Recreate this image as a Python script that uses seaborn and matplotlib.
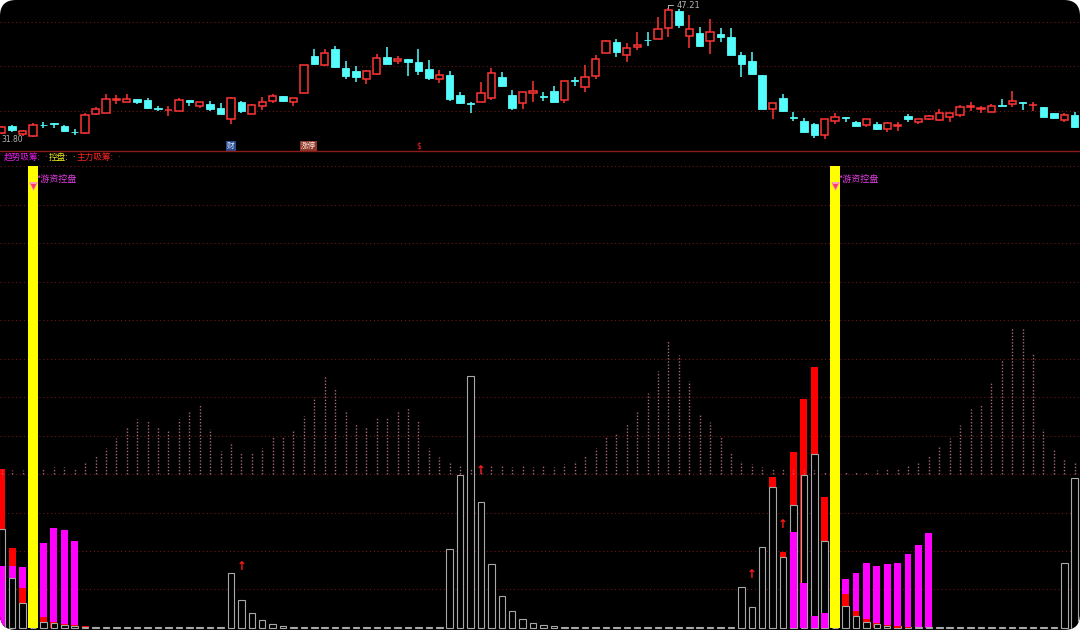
import numpy as np
import matplotlib
matplotlib.use("Agg")
import matplotlib.pyplot as plt
from matplotlib.patches import FancyBboxPatch
from matplotlib.lines import Line2D
import seaborn as sns

# ---- price candles ----
opens = [32.58, 33.41, 32.40, 32.23, 33.54, 33.73, 33.37, 32.71, 32.51, 34.78,
         34.87, 36.45, 36.16, 36.55, 36.43, 35.45, 35.21, 35.17, 36.43, 35.76,
         35.99, 35.45, 34.16, 36.23, 34.82, 35.76, 36.35, 36.90, 36.19, 37.29,
         41.64, 40.58, 42.43, 40.19, 39.81, 38.93, 39.45, 41.49, 41.02, 41.25,
         40.90, 40.04, 38.93, 39.37, 37.02, 36.10, 36.16, 36.67, 39.14, 37.02,
         36.04, 37.29, 36.87, 37.45, 36.47, 38.75, 38.00, 39.29, 41.99, 43.25,
         41.69, 42.66, 43.53, 43.64, 44.93, 46.93, 43.96, 44.27, 43.33, 44.16,
         43.84, 41.72, 41.05, 39.33, 35.34, 36.67, 34.40, 33.96, 33.57, 32.31,
         33.93, 34.43, 33.84, 33.49, 33.61, 32.98, 33.36, 34.58, 33.81, 34.16,
         34.08, 34.47, 34.67, 35.60, 35.36, 35.05, 35.85, 35.92, 36.14, 35.79,
         35.57, 34.87, 34.08, 34.67]
highs = [33.43, 33.45, 32.90, 33.69, 33.84, 33.76, 33.49, 32.98, 34.87, 35.57,
         37.10, 37.02, 37.17, 36.57, 36.63, 35.72, 35.72, 36.67, 36.45, 36.18,
         36.31, 36.04, 36.75, 36.27, 35.95, 36.82, 37.10, 36.93, 36.66, 40.55,
         42.39, 42.39, 42.78, 41.05, 40.43, 39.96, 41.80, 42.66, 41.64, 41.27,
         42.39, 41.13, 39.96, 39.81, 37.41, 36.19, 38.55, 40.19, 39.72, 37.61,
         37.40, 38.63, 37.34, 38.08, 38.66, 39.17, 40.55, 41.72, 43.49, 43.64,
         43.10, 44.43, 44.39, 46.16, 47.21, 47.15, 46.43, 45.05, 45.92, 44.93,
         44.93, 42.11, 42.04, 39.37, 36.07, 37.10, 35.05, 34.28, 33.73, 34.23,
         34.94, 34.45, 33.99, 34.22, 33.81, 33.79, 33.88, 34.78, 34.22, 34.67,
         35.34, 34.90, 35.88, 36.16, 35.72, 35.92, 36.55, 37.52, 36.16, 36.23,
         35.64, 34.90, 34.87, 35.05]
lows = [32.43, 32.63, 32.23, 32.11, 33.10, 33.17, 32.67, 32.31, 32.43, 34.63,
        34.85, 35.96, 36.14, 35.92, 35.41, 35.10, 34.58, 35.15, 35.76, 35.52,
        35.17, 34.80, 33.64, 34.94, 34.80, 35.25, 36.11, 36.16, 35.72, 37.26,
        40.58, 40.43, 40.25, 38.90, 38.58, 38.28, 39.42, 40.63, 40.63, 39.25,
        39.33, 38.82, 38.39, 36.35, 35.92, 34.94, 36.14, 36.43, 38.00, 35.25,
        35.41, 36.16, 36.31, 36.16, 36.04, 38.08, 37.41, 38.86, 41.92, 41.45,
        40.90, 42.31, 42.78, 43.57, 43.80, 44.86, 42.51, 42.63, 41.80, 43.29,
        41.70, 39.10, 39.41, 35.38, 34.16, 34.98, 34.00, 32.58, 31.92, 31.80,
        33.61, 33.88, 33.39, 33.29, 32.90, 32.67, 32.82, 33.88, 33.64, 34.13,
        34.00, 33.88, 34.40, 35.14, 34.87, 34.98, 35.72, 35.64, 35.25, 35.14,
        34.45, 34.16, 33.88, 33.10]
closes = [33.29, 32.90, 32.78, 33.53, 33.44, 33.64, 32.75, 32.62, 34.70, 35.37,
          36.55, 36.52, 36.51, 36.19, 35.52, 35.37, 35.29, 36.43, 36.19, 36.16,
          35.37, 34.82, 36.63, 35.17, 35.88, 36.23, 36.90, 36.31, 36.63, 40.51,
          40.70, 41.92, 40.28, 39.25, 39.14, 39.81, 41.37, 40.66, 41.22, 40.93,
          39.88, 39.05, 39.37, 36.58, 36.04, 36.00, 37.22, 39.61, 38.08, 35.45,
          37.37, 37.52, 36.77, 36.19, 38.63, 38.65, 39.17, 41.29, 43.33, 42.04,
          42.51, 42.86, 43.44, 44.74, 47.01, 45.21, 44.74, 42.82, 44.43, 43.80,
          41.72, 40.63, 39.49, 35.41, 36.04, 35.10, 34.30, 32.70, 32.31, 34.19,
          34.47, 34.35, 33.41, 34.19, 32.98, 33.76, 33.46, 34.16, 34.19, 34.55,
          34.94, 34.87, 35.64, 35.69, 35.45, 35.72, 35.76, 36.31, 36.07, 35.89,
          34.47, 34.35, 34.63, 33.22]
price_grid = [45.60, 40.43, 35.14]

# ---- indicator panel ----
gray_val = [25.7, 13.0, 6.6, 0.0, 1.6, 1.2, 0.7, 0.6, 0.3, 0.3,
            0.3, 0.3, 0.3, 0.3, 0.3, 0.3, 0.3, 0.3, 0.3, 0.3,
            0.3, 0.3, 14.2, 7.2, 3.8, 2.0, 1.0, 0.6, 0.3, 0.3,
            0.3, 0.3, 0.3, 0.3, 0.3, 0.3, 0.3, 0.3, 0.3, 0.3,
            0.3, 0.3, 0.3, 20.4, 39.7, 65.5, 32.7, 16.5, 8.2, 4.4,
            2.3, 1.2, 0.8, 0.4, 0.3, 0.3, 0.3, 0.3, 0.3, 0.3,
            0.3, 0.3, 0.3, 0.3, 0.3, 0.3, 0.3, 0.3, 0.3, 0.3,
            0.3, 10.6, 5.4, 21.0, 36.7, 18.4, 31.9, 39.7, 45.1, 22.6,
            0.0, 5.8, 3.1, 1.6, 1.0, 0.6, 0.4, 0.3, 0.3, 0.3,
            0.3, 0.3, 0.3, 0.3, 0.3, 0.3, 0.3, 0.3, 0.3, 0.3,
            0.3, 0.3, 16.9, 39.0]
magenta_idx = [0, 1, 2, 4, 5, 6, 7, 76, 77, 78, 79, 81, 82, 83, 84, 85, 86, 87, 88, 89]
magenta_val = [16.1, 16.1, 15.8, 22.2, 26.1, 25.5, 22.7, 24.9, 11.6, 3.1, 3.8,
               12.8, 14.2, 17.0, 16.1, 16.7, 17.0, 19.2, 21.6, 24.8]
red_idx = [0, 1, 2, 4, 5, 6, 7, 8, 74, 75, 76, 77, 78, 79, 81, 82, 83, 84, 85, 86, 87]
red_val = [41.3, 20.8, 10.5, 2.9, 1.6, 1.0, 0.8, 0.5, 39.1, 19.7, 45.7, 59.5, 67.9, 34.0,
           8.8, 4.5, 2.4, 1.2, 0.8, 0.4, 0.3]
yellow_idx = [3, 80]
yellow_val = [120, 120]
arrow_idx = [23, 46, 72, 75]
arrow_val = [16.0, 41.0, 14.0, 27.0]
DASH_BASE = 40
dash_h = [1.0, 1.0, 1.0, 1.0, 1.6, 1.8, 1.8, 1.6, 2.9, 4.7,
          6.8, 9.4, 12.2, 14.3, 13.7, 12.2, 11.4, 14.3, 16.1, 17.9,
          11.6, 6.1, 8.4, 5.7, 5.7, 6.8, 9.5, 9.6, 11.4, 15.1,
          19.9, 25.7, 22.1, 16.6, 13.0, 12.1, 14.5, 14.7, 16.6, 17.1,
          13.8, 6.7, 4.3, 3.1, 2.1, 1.5, 1.0, 2.3, 2.3, 1.7,
          2.1, 1.9, 2.1, 1.7, 2.5, 3.3, 4.7, 6.8, 9.5, 10.7,
          13.0, 16.1, 21.0, 26.8, 34.5, 30.9, 24.1, 15.2, 13.5, 9.6,
          5.4, 3.5, 2.6, 1.9, 1.5, 1.2, 1.0, 1.0, 1.0, 0.6,
          0.6, 0.8, 0.9, 0.9, 1.0, 1.3, 1.3, 2.2, 3.1, 4.9,
          7.1, 9.4, 12.7, 16.8, 18.2, 23.6, 29.6, 38.3, 38.0, 31.5,
          11.7, 6.2, 4.2, 2.9]
level_grid = [10, 20, 30, 40, 50, 60, 70, 80, 90, 100, 110, 120]

# header legend: label, colour, left pixel, dot pixel
head_labels = ["趋势吸筹:", "控盘:", "主力吸筹:"]
head_colors = ["#e61ee6", "#e6e61e", "#ff2424"]
head_x = [4, 49, 77]
head_dot_x = [44, 72, 117]

RED = "#ff3535"
CYAN = "#54fcfc"
GRID = "#6a1616"
W, H = 1080, 630
XLIM = (-0.173, 103.51)

sns.set_theme(style="dark", rc={"axes.facecolor": "none", "figure.facecolor": "white"})
plt.rcParams["font.family"] = ["Noto Sans CJK SC", "DejaVu Sans"]

fig = plt.figure(figsize=(W / 100, H / 100), dpi=100)
bg = FancyBboxPatch((0, 0), W / 100, H / 100, boxstyle="round,pad=0,rounding_size=0.16",
                    transform=fig.dpi_scale_trans, facecolor="black", edgecolor="none", zorder=0)
fig.add_artist(bg)

ax_top = fig.add_axes([0, 1 - 150 / H, 1, 150 / H])
ax_bot = fig.add_axes([0, 0, 1, 478 / H])
for ax in (ax_top, ax_bot):
    ax.set_xlim(*XLIM)
    ax.set_axis_off()
ax_top.set_ylim(30.55, 48.19)
ax_bot.set_ylim(-0.52, 123.64)

# candles
x = np.arange(len(opens))
o = np.array(opens)
c = np.array(closes)
hi = np.array(highs)
lo = np.array(lows)
up = c > o
dn = ~up
body_lo = np.minimum(o, c)
body_h = np.maximum(np.abs(c - o), 0.06)

for lvl in price_grid:
    ax_top.axhline(lvl, color=GRID, lw=0.8, ls=(0, (1, 2.5)), zorder=1)

ax_top.vlines(x[dn], lo[dn], hi[dn], color=CYAN, lw=1.1, zorder=2)
ax_top.bar(x[dn], body_h[dn], bottom=body_lo[dn], width=0.72, color=CYAN,
           edgecolor=CYAN, lw=0.6, zorder=3)
ax_top.vlines(x[up], c[up], hi[up], color=RED, lw=1.1, zorder=2)
ax_top.vlines(x[up], lo[up], o[up], color=RED, lw=1.1, zorder=2)
ax_top.bar(x[up], body_h[up], bottom=body_lo[up], width=0.70, facecolor="black",
           edgecolor=RED, lw=1.1, zorder=3)

imax = int(np.argmax(hi))
ax_top.annotate(f"{hi[imax]:.2f}", xy=(imax, hi[imax]), xytext=(imax + 0.75, 47.55),
                color="#b4b4b4", fontsize=6, family="DejaVu Sans", ha="left", va="center",
                arrowprops=dict(arrowstyle="-", color="#b4b4b4", lw=0.7, shrinkA=0, shrinkB=0,
                                connectionstyle="angle,angleA=0,angleB=90,rad=0"))
ax_top.text(0.0, 31.73, f"{lo.min():.2f}", color="#b4b4b4", fontsize=5.5,
            family="DejaVu Sans", ha="left", va="center")
ax_top.text(22, 31.02, "财", color="#dfe8ff", fontsize=5.5, ha="center", va="center",
            bbox=dict(boxstyle="square,pad=0.12", facecolor="#2a4c8c", edgecolor="none"))
ax_top.text(29.4, 31.02, "涨停", color="#ffe6da", fontsize=5.5, ha="center", va="center",
            bbox=dict(boxstyle="square,pad=0.12", facecolor="#8c3a2c", edgecolor="none"))
ax_top.text(40, 31.02, "$", color="#ff2020", fontsize=5.5, family="DejaVu Sans",
            ha="center", va="center")

fig.add_artist(Line2D([0, 1], [1 - 150.5 / H] * 2, transform=fig.transFigure,
                      color="#8a1c1c", lw=1.0, zorder=2))

# indicator panel
for lvl in level_grid:
    ax_bot.axhline(lvl, color=GRID, lw=0.8, ls=(0, (1, 2.5)), zorder=1)

gbars = ax_bot.bar(x, gray_val, width=0.62, facecolor="black", edgecolor="#a8a8a8", lw=0.8)
mbars = ax_bot.bar(magenta_idx, magenta_val, width=0.66, color="#ff00ff", lw=0)
rbars = ax_bot.bar(red_idx, red_val, width=0.66, color="#ff0000", lw=0)
for cont, vals in ((gbars, gray_val), (mbars, magenta_val), (rbars, red_val)):
    for rect, v in zip(cont, vals):
        rect.set_zorder(3 - v / 200)  # shorter bars sit on top

ax_bot.vlines(x, DASH_BASE, DASH_BASE + np.array(dash_h), colors="#a8687c",
              linestyles=(0, (1, 1.3)), lw=1.0, zorder=3.5)

ax_bot.bar(yellow_idx, yellow_val, width=0.95, color="#ffff00", lw=0, zorder=4)
ax_bot.scatter(yellow_idx, [114.8] * len(yellow_idx), marker="v", s=30, color="#ff3a6a",
               edgecolor="#ffa0b8", lw=0.5, zorder=5)
for xi in yellow_idx:
    ax_bot.text(xi + 0.35, 116.4, "*游资控盘", color="#e23ee2", fontsize=6.5,
                ha="left", va="center", zorder=6)

for xi, yv in zip(arrow_idx, arrow_val):
    ax_bot.text(xi, yv, "↑", color="#ff1a1a", fontsize=8.5, fontweight="bold",
                family="DejaVu Sans", ha="center", va="center", zorder=6)

# header labels
y_head = 1 - 157.5 / H
for lab, col, lx, dx in zip(head_labels, head_colors, head_x, head_dot_x):
    fig.text(lx / W, y_head, lab, color=col, fontsize=6.2, va="center")
    fig.text(dx / W, y_head, "·", color=col, fontsize=6.2, va="center", family="DejaVu Sans")

for ax in (ax_top, ax_bot):
    for art in list(ax.patches) + list(ax.collections) + list(ax.lines):
        art.set_clip_path(bg)

fig.savefig("out.png", dpi=100, facecolor="white")
